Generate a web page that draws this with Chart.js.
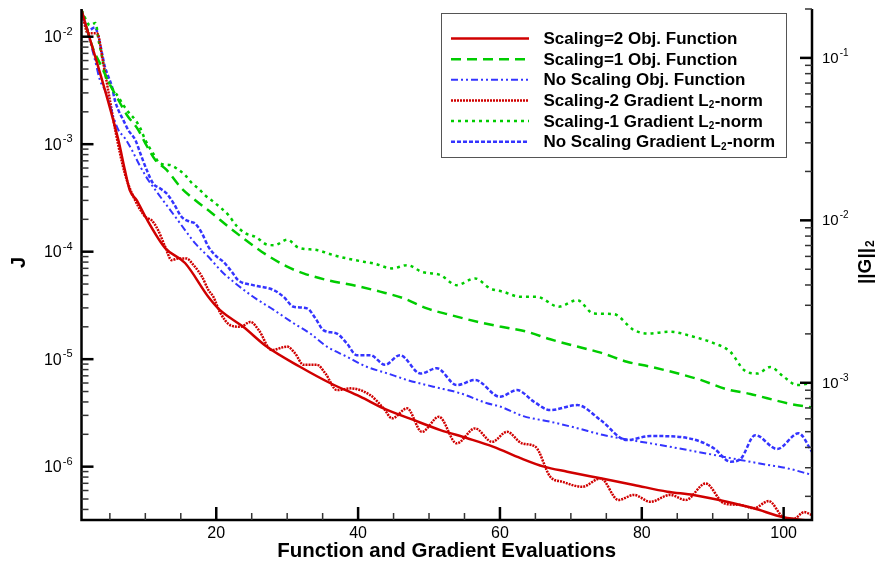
<!DOCTYPE html>
<html>
<head>
<meta charset="utf-8">
<title>Convergence history</title>
<script src="https://cdn.jsdelivr.net/npm/chart.js@4.4.1/dist/chart.umd.min.js"></script>
<style>
  html, body { margin: 0; padding: 0; background: #fff; }
  #wrap { width: 891px; height: 567px; }
</style>
</head>
<body>
<div id="wrap"><canvas id="conv" width="891" height="567"></canvas></div>
<script>
// objective function J (left axis) vs. function/gradient evaluations
const s2ObjX = [1, 6.2, 7.1, 7.8, 8.8, 10, 12.8, 15.6, 18.9, 20.5,
  23.8, 27.1, 31.8, 36.1, 40.3, 43.6, 47.8, 51.6, 55.4, 59.1,
  62.9, 66.2, 69.5, 74.2, 78.9, 83.6, 87.3, 92, 95.8, 100, 104];
const s2ObjJ = [1.77e-2, 1.09e-3, 5.8e-4, 3.75e-4, 3.0e-4, 2.12e-4, 1.08e-4, 7.85e-5, 3.79e-5, 2.87e-5,
  2.0e-5, 1.31e-5, 8.5e-6, 5.97e-6, 4.48e-6, 3.49e-6, 2.72e-6, 2.19e-6, 1.84e-6, 1.53e-6,
  1.2e-6, 1.0e-6, 8.98e-7, 7.79e-7, 6.76e-7, 5.85e-7, 5.45e-7, 4.72e-7, 4.1e-7, 3.38e-7, 3.12e-7];

const s1ObjX = [1, 2.7, 3.6, 4.8, 6.2, 7.4, 9, 10, 11.4, 13,
  15.1, 17, 19.4, 21.7, 24.1, 26.4, 30, 32.3, 35.6, 39.8,
  43.1, 46.4, 49.7, 53, 56.8, 60, 63.8, 67.1, 70.9, 74.2,
  77.9, 81.2, 85, 88.3, 92, 95.3, 97.7, 100.5, 104];
const s1ObjJ = [0.0177, 0.00752, 0.00566, 0.00381, 0.00258, 0.00187, 0.00136, 0.00102, 0.000714, 0.000576,
  0.000389, 0.000303, 0.000228, 0.000171, 0.000129, 1.0e-4, 7.25e-5, 6.29e-5, 5.45e-5, 4.8e-5,
  4.25e-5, 3.69e-5, 2.97e-5, 2.58e-5, 2.23e-5, 2.01e-5, 1.8e-5, 1.53e-5, 1.31e-5, 1.15e-5,
  9.47e-6, 8.51e-6, 7.39e-6, 6.41e-6, 5.25e-6, 4.75e-6, 4.33e-6, 3.89e-6, 3.55e-6];

const noObjX = [1, 2.9, 3.6, 4.3, 4.8, 5.5, 6.2, 7.1, 8.1, 9.3,
  10.4, 11.6, 12.8, 14.2, 15.6, 17, 18.9, 20.8, 22.7, 25.2,
  28.1, 30.9, 33.2, 35.6, 38.4, 41.2, 44.1, 46.9, 50.6, 54.4,
  58.2, 60, 63.3, 67.1, 70.9, 74.6, 78.4, 82.6, 86.4, 90.2,
  93.9, 97.7, 100.5, 104];
const noObjJ = [0.0177, 0.00607, 0.00395, 0.00319, 0.00258, 0.0018, 0.001355, 0.001143, 0.000883, 0.000618,
  0.000465, 0.000361, 0.000282, 0.000212, 0.000159, 0.00012, 8.97e-5, 6.51e-5, 5.08e-5, 3.81e-5,
  2.87e-5, 2.16e-5, 1.74e-5, 1.31e-5, 1.055e-5, 8.51e-6, 7.39e-6, 6.41e-6, 5.55e-6, 4.82e-6,
  3.89e-6, 3.63e-6, 2.95e-6, 2.62e-6, 2.28e-6, 1.97e-6, 1.77e-6, 1.59e-6, 1.43e-6, 1.285e-6,
  1.155e-6, 1.04e-6, 9.66e-7, 8.38e-7];

// gradient norm ||G||2 (right axis)
const s2GradX = [1, 1.9, 3.2, 4, 5, 5.9, 7.1, 8.1, 10, 10.9,
  11.8, 12.8, 13.7, 14.7, 15.8, 16.8, 18, 18.9, 19.6, 20.5,
  22, 23.4, 24.8, 26, 27.8, 30, 31.1, 32.3, 34.2, 35.4,
  37, 38.9, 41.7, 43.6, 44.8, 46.9, 49, 51.4, 53.9, 56.5,
  58.9, 61, 63.1, 65, 67.1, 68.8, 71.6, 74.2, 76.7, 78.9,
  81.2, 84, 86.2, 89, 91.6, 93.9, 95.8, 97.9, 100, 101.4,
  102.9, 104];
const s2GradG = [0.197, 0.142, 0.142, 0.0968, 0.055, 0.0334, 0.0195, 0.0147, 0.0105, 0.01,
  0.0087, 0.00687, 0.00569, 0.00583, 0.00583, 0.0053, 0.00449, 0.00372, 0.00338, 0.00273,
  0.00226, 0.00221, 0.00237, 0.00211, 0.00159, 0.00167, 0.00152, 0.00129, 0.00129, 0.00114,
  0.000902, 0.000924, 0.00084, 0.000696, 0.000604, 0.000696, 0.000499, 0.000618, 0.000424, 0.000524,
  0.000433, 0.000499, 0.000424, 0.000404, 0.000264, 0.000246, 0.000229, 0.000258, 0.00019, 0.000204,
  0.000185, 0.000204, 0.00019, 0.00024, 0.000181, 0.000177, 0.000169, 0.000187, 0.000148, 0.000145,
  0.00016, 0.000153];

const s1GradX = [1, 2.2, 3, 3.4, 3.9, 4.3, 4.8, 5.5, 6.2, 6.9,
  7.6, 8.6, 9.3, 10, 11.1, 12.1, 13.5, 14.4, 15.6, 16.6,
  17.5, 18.4, 19.8, 21.7, 22.9, 24.1, 25.6, 27.2, 28.2, 30,
  31.6, 34.2, 36.5, 38.4, 40.8, 42.2, 44.8, 46.9, 49, 51.6,
  53.9, 56.5, 58.6, 60.5, 62.9, 65.2, 68.3, 70.9, 73.2, 76,
  78.9, 80.8, 84, 87.3, 90.2, 92.5, 94.4, 96.3, 98.1, 100,
  101.9, 104];
const s1GradG = [0.197, 0.159, 0.164, 0.1285, 0.1014, 0.0801, 0.0712, 0.0633, 0.0575, 0.0512,
  0.0465, 0.0414, 0.0368, 0.0312, 0.0258, 0.0224, 0.0219, 0.0209, 0.019, 0.0169,
  0.0157, 0.0143, 0.0128, 0.0108, 0.0092, 0.00834, 0.00788, 0.00708, 0.00703, 0.0076,
  0.00679, 0.00656, 0.00611, 0.00583, 0.00556, 0.00543, 0.00506, 0.0053, 0.00482, 0.0046,
  0.00399, 0.00439, 0.00381, 0.00363, 0.00338, 0.00338, 0.00294, 0.00323, 0.00267, 0.00265,
  0.00211, 0.00201, 0.00206, 0.00192, 0.00175, 0.00155, 0.0012, 0.00114, 0.00125, 0.00109,
  0.000968, 0.001];

const noGradX = [1, 2, 2.9, 3.4, 3.9, 4.3, 4.8, 5.3, 5.7, 6.2,
  6.9, 7.6, 8.6, 9.3, 10.2, 11.1, 12.1, 13, 14, 15.1,
  16.3, 17, 18, 18.9, 20.1, 21, 22.2, 23.1, 25.2, 28.1,
  29.5, 30.9, 32.8, 34, 35.1, 37, 38.4, 39.8, 41.7, 43.8,
  45.9, 48.8, 51.1, 53.9, 56.5, 60, 62.4, 64.8, 67.1, 70.9,
  74.2, 77.9, 81.2, 85, 88.3, 90.2, 92.5, 93.9, 96, 99.1,
  102.1, 104];
const noGradG = [0.197, 0.148, 0.154, 0.1345, 0.1064, 0.0881, 0.0764, 0.0664, 0.055, 0.0477,
  0.0414, 0.0359, 0.0312, 0.0258, 0.0204, 0.01687, 0.0157, 0.01465, 0.0127, 0.01052,
  0.0098, 0.00958, 0.0083, 0.00687, 0.00596, 0.00556, 0.00482, 0.00428, 0.00399, 0.00372,
  0.00338, 0.00294, 0.00287, 0.00249, 0.00211, 0.00201, 0.00175, 0.00148, 0.00148, 0.00129,
  0.00148, 0.00114, 0.00123, 0.000968, 0.00104, 0.00082, 0.000902, 0.000764, 0.000679, 0.000729,
  0.000589, 0.000444, 0.00047, 0.000466, 0.000434, 0.000394, 0.000327, 0.000339, 0.000476, 0.000391,
  0.000489, 0.000376];

const xTicks = [20, 40, 60, 80, 100];
const jDecades = [-6, -5, -4, -3, -2];
const gDecades = [-3, -2, -1];

const FONT = '"Liberation Sans", Arial, Helvetica, sans-serif';
const RED = '#d00000', GREEN = '#00cc00', BLUE = '#3434ff';

const pts = (xs, ys) => xs.map((x, i) => ({ x: x, y: ys[i] }));

function series(label, xs, ys, axis, color, width, dash) {
  return {
    label: label,
    data: pts(xs, ys),
    yAxisID: axis,
    borderColor: color,
    borderWidth: width,
    borderDash: dash,
    borderCapStyle: 'butt',
    pointRadius: 0,
    fill: false,
    cubicInterpolationMode: 'monotone'
  };
}

const datasets = [
  series('Scaling=2 Obj. Function', s2ObjX, s2ObjJ, 'yJ', RED, 2.5, []),
  series('Scaling=1 Obj. Function', s1ObjX, s1ObjJ, 'yJ', GREEN, 2.5, [10, 6]),
  series('No Scaling Obj. Function', noObjX, noObjJ, 'yJ', BLUE, 2, [7, 3, 2, 3, 2, 3]),
  series('Scaling-2 Gradient L_2-norm', s2GradX, s2GradG, 'yG', RED, 2.5, [2, 1]),
  series('Scaling-1 Gradient L_2-norm', s1GradX, s1GradG, 'yG', GREEN, 2.5, [3, 4]),
  series('No Scaling Gradient L_2-norm', noGradX, noGradG, 'yG', BLUE, 2.5, [4, 2])
];

// "10" with a raised exponent
function powLabel(ctx, x, y, exp, align, size) {
  const base = '10', sup = String(exp);
  ctx.font = size + 'px ' + FONT;
  const bw = ctx.measureText(base).width;
  ctx.font = Math.round(size * 0.68) + 'px ' + FONT;
  const sw = ctx.measureText(sup).width;
  const x0 = align === 'right' ? x - bw - sw - 1 : x;
  ctx.textAlign = 'left';
  ctx.textBaseline = 'middle';
  ctx.font = size + 'px ' + FONT;
  ctx.fillText(base, x0, y + 1);
  ctx.font = Math.round(size * 0.68) + 'px ' + FONT;
  ctx.fillText(sup, x0 + bw + 1, y - 5);
}

// text where "_" marks the next character as a subscript
function richText(ctx, x, y, text, size, sx) {
  const parts = text.split('_');
  let cx = x;
  parts.forEach((p, i) => {
    let body = p;
    if (i > 0) {
      ctx.font = 'bold ' + Math.round(size * 0.65) + 'px ' + FONT;
      ctx.fillText(p[0], cx, y + 4);
      cx += ctx.measureText(p[0]).width * sx;
      body = p.slice(1);
    }
    ctx.font = 'bold ' + size + 'px ' + FONT;
    ctx.save();
    ctx.translate(cx, y);
    ctx.scale(sx, 1);
    ctx.fillText(body, 0, 0);
    ctx.restore();
    cx += ctx.measureText(body).width * sx;
  });
}

function logTicks(ctx, scale, x0, dir) {
  const lo = Math.floor(Math.log10(scale.min));
  const hi = Math.ceil(Math.log10(scale.max));
  for (let d = lo; d <= hi; d++) {
    for (let m = 1; m <= 9; m++) {
      const v = m * Math.pow(10, d);
      if (v < scale.min || v > scale.max) continue;
      const py = scale.getPixelForValue(v);
      const major = m === 1;
      ctx.lineWidth = major ? 2.5 : 1.5;
      ctx.strokeStyle = major ? '#000' : '#333';
      ctx.beginPath();
      ctx.moveTo(x0, py);
      ctx.lineTo(x0 + dir * (major ? 12 : 7), py);
      ctx.stroke();
    }
  }
}

const frame = {
  id: 'frame',
  afterDatasetsDraw(chart) {
    const ctx = chart.ctx, a = chart.chartArea;
    const sx = chart.scales.x, sj = chart.scales.yJ, sg = chart.scales.yG;
    ctx.save();
    ctx.fillStyle = '#000';

    // axis lines (no top border)
    ctx.strokeStyle = '#000';
    ctx.lineWidth = 2.5;
    ctx.beginPath();
    ctx.moveTo(a.left, a.top);
    ctx.lineTo(a.left, a.bottom);
    ctx.lineTo(a.right, a.bottom);
    ctx.lineTo(a.right, a.top);
    ctx.stroke();

    // inward ticks
    logTicks(ctx, sj, a.left, 1);
    logTicks(ctx, sg, a.right, -1);
    for (let v = 5; v < sx.max; v += 5) {
      const px = sx.getPixelForValue(v);
      const major = v % 20 === 0;
      ctx.lineWidth = major ? 2.5 : 1.5;
      ctx.strokeStyle = major ? '#000' : '#333';
      ctx.beginPath();
      ctx.moveTo(px, a.bottom);
      ctx.lineTo(px, a.bottom - (major ? 13 : 7));
      ctx.stroke();
    }

    // tick labels
    jDecades.forEach(e => powLabel(ctx, a.left - 9, sj.getPixelForValue(Math.pow(10, e)), e, 'right', 16));
    gDecades.forEach(e => powLabel(ctx, a.right + 10, sg.getPixelForValue(Math.pow(10, e)), e, 'left', 15));
    ctx.font = '16px ' + FONT;
    ctx.textAlign = 'center';
    ctx.textBaseline = 'middle';
    xTicks.forEach(v => ctx.fillText(String(v), sx.getPixelForValue(v), a.bottom + 14));

    // axis titles
    const title = 'Function and Gradient Evaluations';
    ctx.font = 'bold 21px ' + FONT;
    const tw = ctx.measureText(title).width;
    ctx.save();
    ctx.translate((a.left + a.right) / 2, a.bottom + 31);
    ctx.scale(339 / tw, 1);
    ctx.fillText(title, 0, 0);
    ctx.restore();

    ctx.save();
    ctx.translate(19, (a.top + a.bottom) / 2 - 2);
    ctx.rotate(-Math.PI / 2);
    ctx.font = 'bold 20px ' + FONT;
    ctx.fillText('J', 0, 0);
    ctx.restore();

    ctx.save();
    ctx.translate(866, 262);
    ctx.rotate(-Math.PI / 2);
    ctx.font = 'bold 19px ' + FONT;
    const gw = ctx.measureText('||G||').width;
    ctx.textAlign = 'left';
    ctx.fillText('||G||', -gw / 2 - 4, 0);
    ctx.font = 'bold 12px ' + FONT;
    ctx.fillText('2', gw / 2 - 3, 5);
    ctx.restore();

    // legend box
    const box = { l: 441.5, t: 13.5, r: 786.5, b: 157.5 };
    ctx.fillStyle = '#fff';
    ctx.fillRect(box.l, box.t, box.r - box.l, box.b - box.t);
    ctx.strokeStyle = '#555';
    ctx.lineWidth = 1;
    ctx.strokeRect(box.l, box.t, box.r - box.l, box.b - box.t);
    ctx.font = 'bold 16px ' + FONT;
    const lsx = 194 / ctx.measureText(chart.data.datasets[0].label).width;
    chart.data.datasets.forEach((ds, i) => {
      const y = 38.5 + i * 20.65;
      ctx.strokeStyle = ds.borderColor;
      ctx.lineWidth = ds.borderWidth;
      ctx.setLineDash(ds.borderDash);
      ctx.beginPath();
      ctx.moveTo(451, y);
      ctx.lineTo(529, y);
      ctx.stroke();
      ctx.setLineDash([]);
      ctx.fillStyle = '#000';
      ctx.textAlign = 'left';
      ctx.textBaseline = 'middle';
      richText(ctx, 543.5, y + 1, ds.label, 16, lsx);
    });
    ctx.restore();
  }
};

new Chart(document.getElementById('conv'), {
  type: 'line',
  data: { datasets: datasets },
  options: {
    responsive: false,
    animation: false,
    events: [],
    layout: { padding: { left: 81.5, right: 79, top: 9, bottom: 47 } },
    scales: {
      x: { type: 'linear', min: 1, max: 104, display: false },
      yJ: { type: 'logarithmic', position: 'left', min: 3.19e-7, max: 1.81e-2, display: false },
      yG: { type: 'logarithmic', position: 'right', min: 1.43e-4, max: 0.2, display: false }
    },
    plugins: { legend: { display: false }, tooltip: { enabled: false } }
  },
  plugins: [frame]
});
</script>
</body>
</html>
